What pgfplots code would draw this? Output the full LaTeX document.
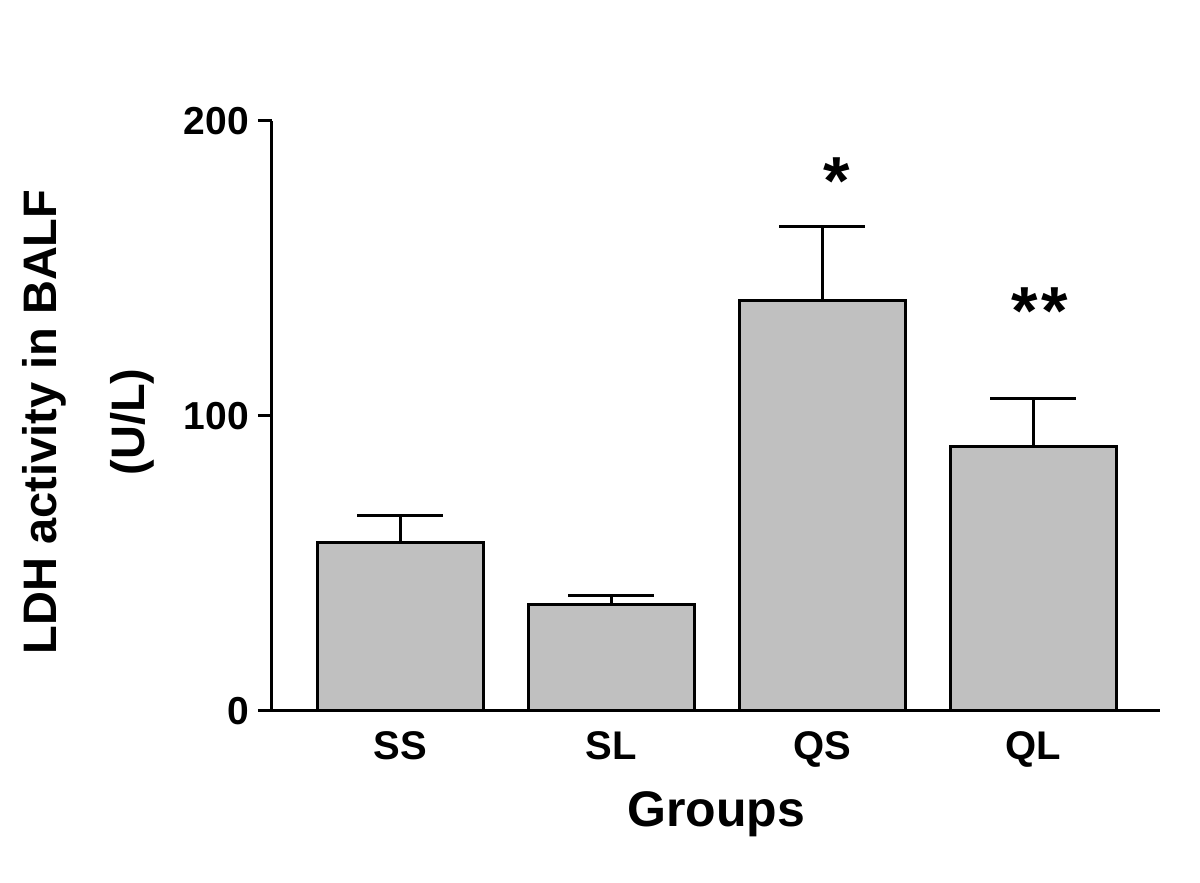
\documentclass[border=0pt]{standalone}
\usepackage{pgfplots}
\pgfplotsset{compat=1.18}
\usepackage{fontspec}
\setmainfont{Liberation Sans}
\definecolor{BarGray}{HTML}{C0C0C0}

\begin{document}
\begin{tikzpicture}
\useasboundingbox (-136pt,-86pt) rectangle (464pt,355.5pt);
\begin{axis}[
  at={(0,0)}, anchor=south west,
  width=444pt, height=295pt,
  scale only axis,
  axis lines=left,
  axis line style={line width=1.5pt, -},
  xmin=-0.607, xmax=3.6,
  ymin=0, ymax=200,
  ytick={0,100,200},
  xtick={0,1,2,3},
  xticklabels={SS,SL,QS,QL},
  major x tick style={draw=none},
  major y tick style={line width=1.5pt, black},
  tick align=outside,
  major tick length=7pt,
  yticklabel style={font=\fontsize{19.5}{23}\selectfont\bfseries, xshift=-1pt},
  xticklabel style={font=\fontsize{20}{23}\selectfont\bfseries, yshift=0pt},
  /pgf/number format/assume math mode=true,
  xlabel={Groups},
  xlabel style={font=\fontsize{25}{28}\selectfont\bfseries, yshift=-5pt},
  ylabel={LDH activity in BALF\\(U/L)},
  ylabel style={font=\fontsize{23.5}{44}\selectfont\bfseries, align=center, yshift=8pt, xshift=-3pt},
  ybar, bar width=83pt,
]
\addplot[fill=BarGray, draw=black, line width=1.5pt,
  error bars/.cd, y dir=plus, y explicit,
  error bar style={line width=1.5pt, black},
  error mark options={rotate=90, mark size=21.5pt, line width=1.5pt}]
coordinates {
  (0,57) +- (0,9.4)
  (1,36) +- (0,3.3)
  (2,139) +- (0,25.4)
  (3,89.5) +- (0,16.5)
};
\node[font=\fontsize{34}{36}\selectfont\bfseries] at (axis cs:2.07,179.5) {*};
\node[font=\fontsize{34}{36}\selectfont\bfseries] at (axis cs:3.03,135.5) {*\kern1.5pt*};
\end{axis}
\end{tikzpicture}
\end{document}
